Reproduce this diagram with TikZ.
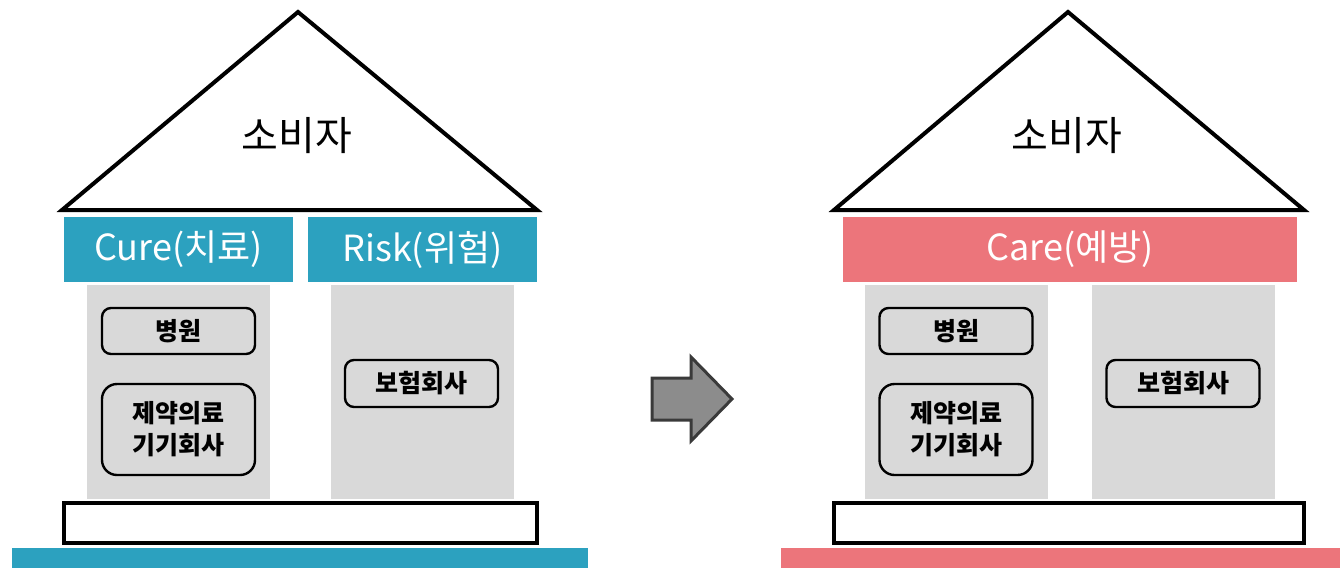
\documentclass[tikz,border=0pt]{standalone}
\usepackage{fontspec}
\usepackage{tikz}
\usetikzlibrary{positioning}
\setmainfont{Noto Sans CJK KR}
\definecolor{cureblue}{RGB}{44,161,191}
\definecolor{carepink}{RGB}{236,117,123}
\definecolor{pillargray}{RGB}{217,217,217}
\definecolor{arrowgray}{RGB}{140,140,140}
\definecolor{arrowedge}{RGB}{58,58,58}

\tikzset{
    header/.style={fill=#1, text=white, inner sep=0pt, minimum height=65pt, font=\fontsize{36}{40}\selectfont},
    pillar/.style={fill=pillargray, inner sep=0pt, minimum width=183pt, minimum height=214pt},
    member/.style={draw, line width=2.4pt, rounded corners=9pt, fill=pillargray, inner sep=0pt, minimum width=153pt, align=center, font=\fontsize{25}{32}\selectfont\bfseries},
    basement/.style={draw, line width=4pt, fill=white, inner sep=0pt, minimum height=40pt},
    ground/.style={fill=#1, inner sep=0pt, minimum height=20pt},
    roof_label/.style={font=\fontsize{40}{46}\selectfont}
}

\begin{document}
\begin{tikzpicture}[x=1pt, y=-1pt]
        \useasboundingbox (0,0) rectangle (1340,568);

        \draw[line width=4pt] (62,210) -- (298,12) -- (537,210) -- cycle;
        \node[roof_label] (consumer_before) at (297,136) {소비자};
        \node[header=cureblue, minimum width=229pt] (cure) at (178.5,249.5) {Cure(치료)};
        \node[header=cureblue, minimum width=229pt] (risk) at (422.5,249.5) {Risk(위험)};
        \node[pillar] (cure_pillar) at (178.5,392) {};
        \node[pillar] (risk_pillar) at (422,392) {};
        \node[member, minimum height=46pt] (hospital_before) at (178.5,331) {병원};
        \node[member, minimum height=91pt, rounded corners=15pt] (pharma_before) at (178.5,429.5) {제약의료\\기기회사};
        \node[member, minimum height=47pt] (insurer_before) at (421.5,383.5) {보험회사};
        \node[basement, minimum width=473pt] (base_before) at (300,523) {};
        \node[ground=cureblue, minimum width=576pt] (ground_before) at (300,558) {};

        \draw[line width=3pt, draw=arrowedge, fill=arrowgray] (652,378) -- (691,378) -- (691,357) -- (732,399) -- (691,441) -- (691,420) -- (652,420) -- cycle;

        \draw[line width=4pt] (834,210) -- (1068,12) -- (1304,210) -- cycle;
        \node[roof_label] (consumer_after) at (1067,136) {소비자};
        \node[header=carepink, minimum width=454pt] (care) at (1070,249.5) {Care(예방)};
        \node[pillar] (care_pillar_left) at (956,392) {};
        \node[pillar] (care_pillar_right) at (1183,392) {};
        \node[member, minimum height=46pt] (hospital_after) at (956,331) {병원};
        \node[member, minimum height=91pt, rounded corners=15pt] (pharma_after) at (956,429.5) {제약의료\\기기회사};
        \node[member, minimum height=47pt] (insurer_after) at (1183,383.5) {보험회사};
        \node[basement, minimum width=470pt] (base_after) at (1069,523) {};
        \node[ground=carepink, minimum width=560pt] (ground_after) at (1061,558) {};
    \end{tikzpicture}
\end{document}
